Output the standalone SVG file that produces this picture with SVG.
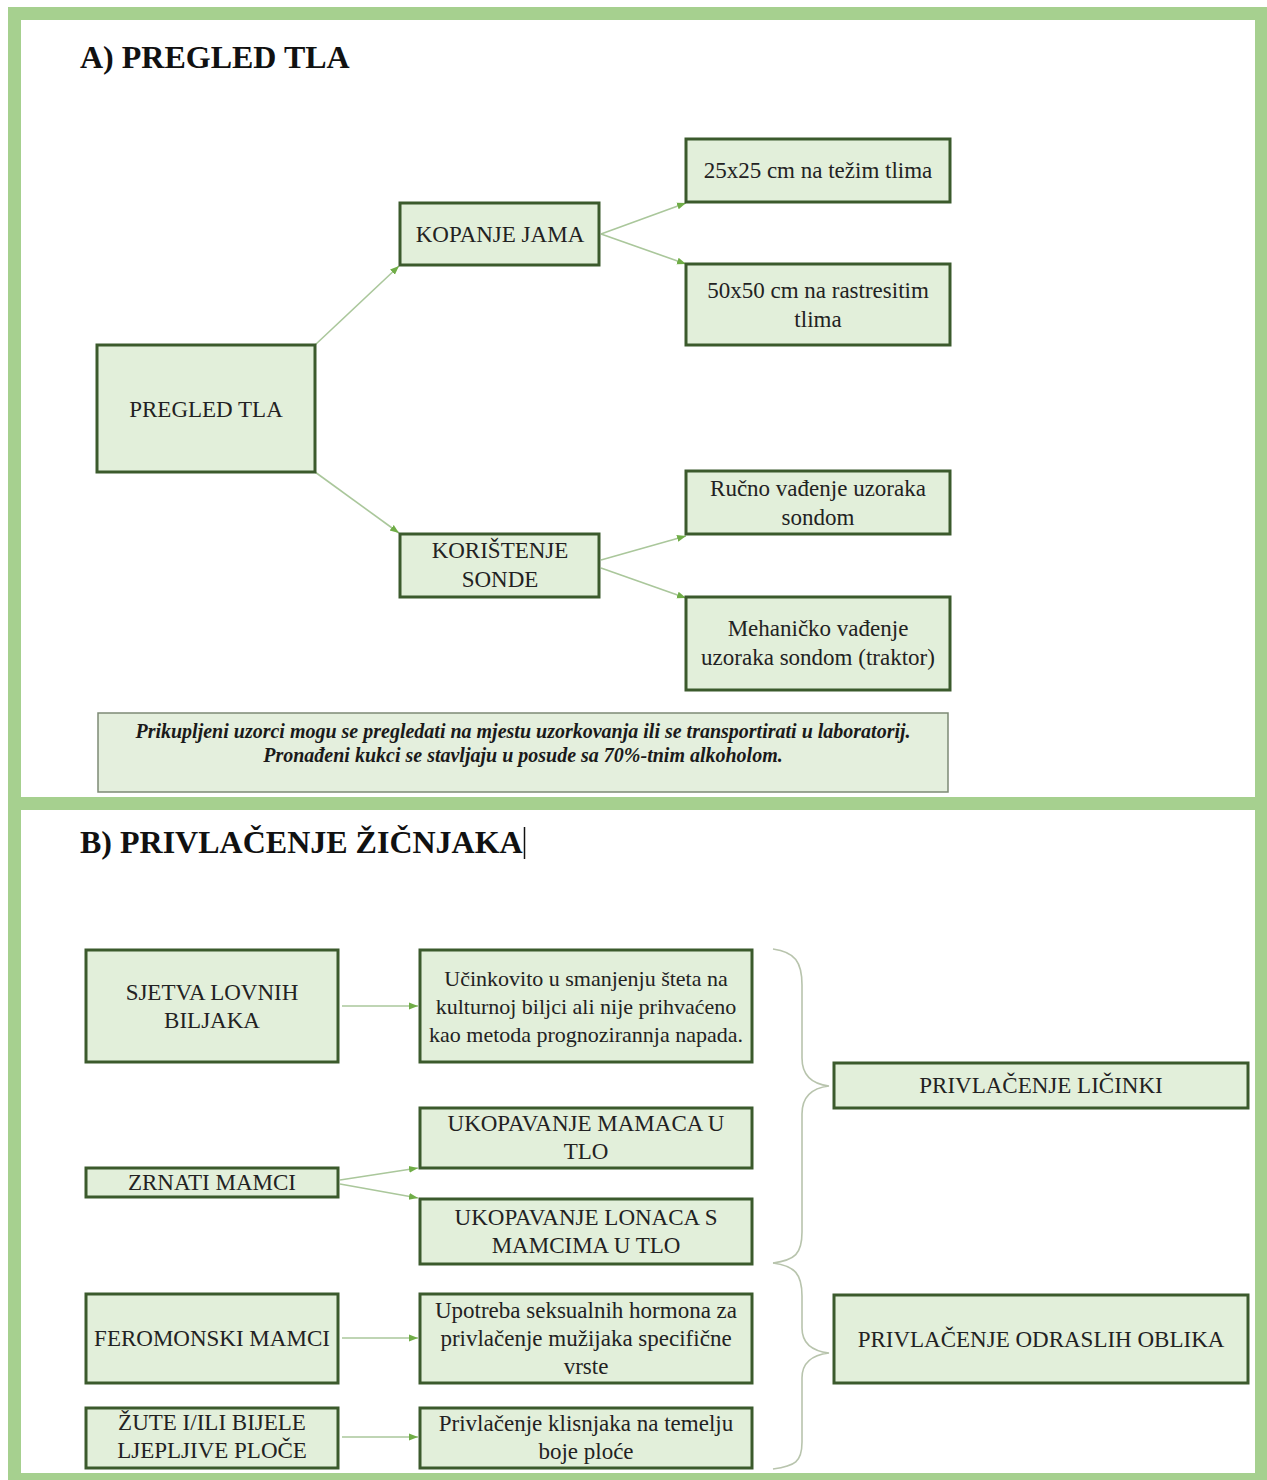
<svg xmlns="http://www.w3.org/2000/svg" width="1267" height="1480" viewBox="0 0 1267 1480">
<style>
.frame{fill:#a6d08f}
.box{fill:#e2efda;stroke:#3b5a2c;stroke-width:3}
.note{fill:#e4efdd;stroke:#7d8a75;stroke-width:1.5}
.t{font-family:"Liberation Serif","Times New Roman",serif;font-size:23px;fill:#222;text-anchor:middle}
.s{font-size:22px}
.h{font-family:"Liberation Serif","Times New Roman",serif;font-size:32px;font-weight:bold;fill:#111}
.n{font-family:"Liberation Serif","Times New Roman",serif;font-size:20px;font-weight:bold;font-style:italic;fill:#1a1a1a;text-anchor:middle}
.c{fill:none;stroke:#aac79b;stroke-width:1.6}
.br{fill:none;stroke:#b8c4ad;stroke-width:1.6}
</style>
<defs>
<marker id="ah" markerUnits="userSpaceOnUse" markerWidth="10" markerHeight="10" viewBox="0 0 10 10" refX="9" refY="5" orient="auto">
<path d="M0,1.5 L9,5 L0,8.5 z" fill="#70ad47"/>
</marker>
</defs>
<rect width="1267" height="1480" fill="#ffffff"/>
<g id="frame">
<rect class="frame" x="8" y="7" width="1259" height="13"/>
<rect class="frame" x="8" y="7" width="13" height="1473"/>
<rect class="frame" x="1255" y="7" width="12" height="1473"/>
<rect class="frame" x="8" y="797" width="1259" height="13"/>
<rect class="frame" x="8" y="1473" width="1259" height="7"/>
</g>
<g id="titles">
<text class="h" x="80" y="68">A) PREGLED TLA</text>
<text class="h" x="80" y="853">B) PRIVLAČENJE ŽIČNJAKA</text>
<line x1="524.5" y1="827" x2="524.5" y2="859" stroke="#111" stroke-width="1.5"/>
</g>
<g id="connectors">
<line class="c" x1="315" y1="345" x2="399" y2="266" marker-end="url(#ah)"/>
<line class="c" x1="315" y1="472" x2="399" y2="533" marker-end="url(#ah)"/>
<line class="c" x1="601" y1="234" x2="686" y2="203" marker-end="url(#ah)"/>
<line class="c" x1="601" y1="234" x2="686" y2="264" marker-end="url(#ah)"/>
<line class="c" x1="601" y1="560" x2="686" y2="536" marker-end="url(#ah)"/>
<line class="c" x1="601" y1="568" x2="686" y2="598" marker-end="url(#ah)"/>
<line class="c" x1="342" y1="1006" x2="418" y2="1006" marker-end="url(#ah)"/>
<line class="c" x1="340" y1="1180" x2="418" y2="1168" marker-end="url(#ah)"/>
<line class="c" x1="340" y1="1184" x2="418" y2="1198" marker-end="url(#ah)"/>
<line class="c" x1="342" y1="1338" x2="418" y2="1338" marker-end="url(#ah)"/>
<line class="c" x1="342" y1="1437" x2="418" y2="1437" marker-end="url(#ah)"/>
<path class="br" d="M773,949 C795,952 802,962 802,985 L802,1058 C802,1076 812,1084 829,1086 C812,1088 802,1096 802,1114 L802,1232 C802,1254 795,1260 773,1263"/>
<path class="br" d="M773,1263 C795,1266 802,1274 802,1296 L802,1328 C802,1344 812,1351 829,1353 C812,1355 802,1362 802,1378 L802,1442 C802,1462 795,1466 773,1469"/>
</g>
<g id="n-pregled"><rect class="box" x="97" y="345" width="218" height="127"/><text class="t" x="206" y="417">PREGLED TLA</text></g>
<g id="n-kopanje"><rect class="box" x="400" y="203" width="199" height="62"/><text class="t" x="500" y="242">KOPANJE JAMA</text></g>
<g id="n-25"><rect class="box" x="686" y="139" width="264" height="63"/><text class="t" x="818" y="178">25x25 cm na težim tlima</text></g>
<g id="n-50"><rect class="box" x="686" y="264" width="264" height="81"/><text class="t" x="818" y="298">50x50 cm na rastresitim</text><text class="t" x="818" y="327">tlima</text></g>
<g id="n-sonde"><rect class="box" x="400" y="534" width="199" height="63"/><text class="t" x="500" y="558">KORIŠTENJE</text><text class="t" x="500" y="587">SONDE</text></g>
<g id="n-rucno"><rect class="box" x="686" y="471" width="264" height="63"/><text class="t" x="818" y="496">Ručno vađenje uzoraka</text><text class="t" x="818" y="525">sondom</text></g>
<g id="n-meh"><rect class="box" x="686" y="597" width="264" height="93"/><text class="t" x="818" y="636">Mehaničko vađenje</text><text class="t" x="818" y="665">uzoraka sondom (traktor)</text></g>
<g id="n-note"><rect class="note" x="98" y="713" width="850" height="79"/><text class="n" x="523" y="738">Prikupljeni uzorci mogu se pregledati na mjestu uzorkovanja ili se transportirati u laboratorij.</text><text class="n" x="523" y="762">Pronađeni kukci se stavljaju u posude sa 70%-tnim alkoholom.</text></g>
<g id="n-sjetva"><rect class="box" x="86" y="950" width="252" height="112"/><text class="t" x="212" y="1000">SJETVA LOVNIH</text><text class="t" x="212" y="1028">BILJAKA</text></g>
<g id="n-ucink"><rect class="box" x="420" y="950" width="332" height="112"/><text class="t s" x="586" y="986">Učinkovito u smanjenju šteta na</text><text class="t s" x="586" y="1014">kulturnoj biljci ali nije prihvaćeno</text><text class="t s" x="586" y="1042">kao metoda prognozirannja napada.</text></g>
<g id="n-mamaca"><rect class="box" x="420" y="1108" width="332" height="60"/><text class="t" x="586" y="1131">UKOPAVANJE MAMACA U</text><text class="t" x="586" y="1159">TLO</text></g>
<g id="n-zrnati"><rect class="box" x="86" y="1168" width="252" height="29"/><text class="t" x="212" y="1190">ZRNATI MAMCI</text></g>
<g id="n-lonaca"><rect class="box" x="420" y="1199" width="332" height="65"/><text class="t" x="586" y="1225">UKOPAVANJE LONACA S</text><text class="t" x="586" y="1253">MAMCIMA U TLO</text></g>
<g id="n-fero"><rect class="box" x="86" y="1294" width="252" height="89"/><text class="t" x="212" y="1346">FEROMONSKI MAMCI</text></g>
<g id="n-upotreba"><rect class="box" x="420" y="1294" width="332" height="89"/><text class="t" x="586" y="1318">Upotreba seksualnih hormona za</text><text class="t" x="586" y="1346">privlačenje mužijaka specifične</text><text class="t" x="586" y="1374">vrste</text></g>
<g id="n-zute"><rect class="box" x="86" y="1408" width="252" height="60"/><text class="t" x="212" y="1430">ŽUTE I/ILI BIJELE</text><text class="t" x="212" y="1458">LJEPLJIVE PLOČE</text></g>
<g id="n-klis"><rect class="box" x="420" y="1408" width="332" height="60"/><text class="t" x="586" y="1431">Privlačenje klisnjaka na temelju</text><text class="t" x="586" y="1459">boje ploće</text></g>
<g id="n-licinki"><rect class="box" x="834" y="1063" width="414" height="45"/><text class="t" x="1041" y="1093">PRIVLAČENJE LIČINKI</text></g>
<g id="n-odrasli"><rect class="box" x="834" y="1295" width="414" height="88"/><text class="t" x="1041" y="1347">PRIVLAČENJE ODRASLIH OBLIKA</text></g>
</svg>
